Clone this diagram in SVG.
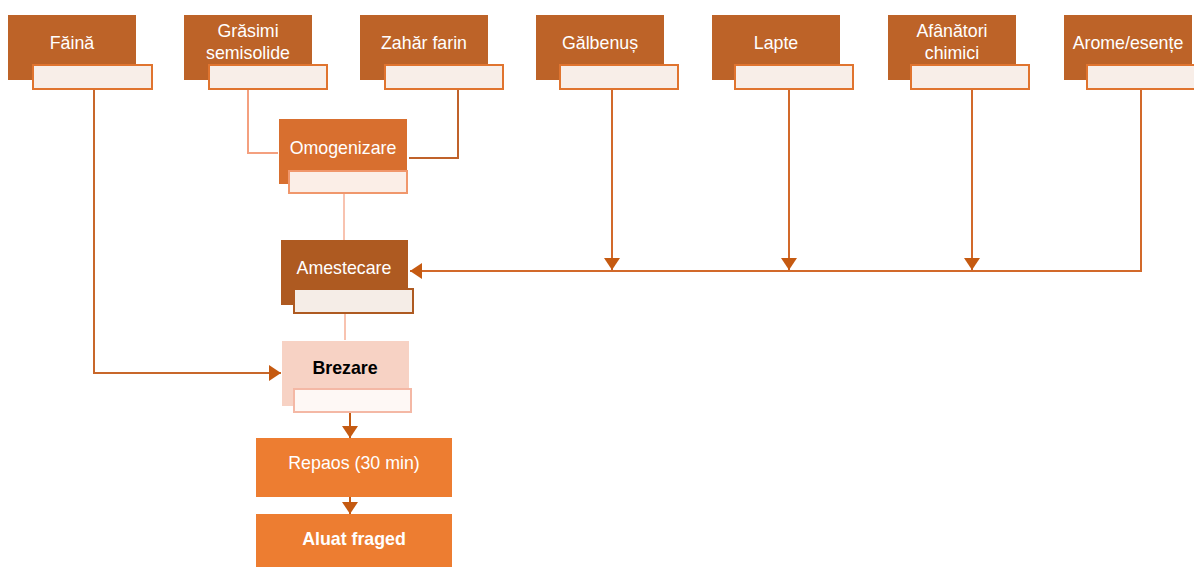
<svg xmlns="http://www.w3.org/2000/svg" width="1194" height="567" viewBox="0 0 1194 567">
<style>
text{font-family:"Liberation Sans",Arial,sans-serif;font-size:17.8px;fill:#fff;text-anchor:middle}
.top{fill:#bd6328}
.tl{fill:#f8eee8;stroke:#e0742f;stroke-width:2}
.c{fill:none;stroke-width:2}
</style>
<defs>
<marker id="ah" viewBox="0 0 12 16" refX="12" refY="8" markerWidth="14" markerHeight="16" markerUnits="userSpaceOnUse" orient="auto">
<path d="M0,0 L12,8 L0,16 Z" fill="#c55a11"/>
</marker>
</defs>
<rect width="1194" height="567" fill="#fff"/>
<g id="connectors">
<path class="c" stroke="#c8672a" d="M76,87 H94 V373 H281" marker-end="url(#ah)"/>
<path class="c" stroke="#f4a07f" d="M248,89 V153 H278"/>
<path class="c" stroke="#c0622a" d="M458,89 V158 H409"/>
<path class="c" stroke="#f8c3b0" d="M344,193 V240"/>
<path class="c" stroke="#f8c3b0" d="M345,313 V340"/>
<path class="c" stroke="#d2692a" d="M1141,89 V271 H410" marker-end="url(#ah)"/>
<path class="c" stroke="#d2692a" d="M612,89 V270" marker-end="url(#ah)"/>
<path class="c" stroke="#d2692a" d="M789,89 V270" marker-end="url(#ah)"/>
<path class="c" stroke="#d2692a" d="M972,89 V270" marker-end="url(#ah)"/>
<path class="c" stroke="#c55a11" d="M350,412 V438" marker-end="url(#ah)"/>
<path class="c" stroke="#c55a11" d="M350,497 V514" marker-end="url(#ah)"/>
</g>
<g id="faina"><rect class="top" x="8" y="15" width="128" height="65"/><rect class="tl" x="33" y="65" width="119" height="24"/><text x="72" y="49">Făină</text></g>
<g id="grasimi"><rect class="top" x="184" y="15" width="128" height="65"/><rect class="tl" x="209" y="65" width="118" height="24"/><text x="248" y="37">Grăsimi</text><text x="248" y="59">semisolide</text></g>
<g id="zahar"><rect class="top" x="360" y="15" width="128" height="65"/><rect class="tl" x="385" y="65" width="118" height="24"/><text x="424" y="49">Zahăr farin</text></g>
<g id="galbenus"><rect class="top" x="536" y="15" width="128" height="65"/><rect class="tl" x="560" y="65" width="118" height="24"/><text x="600" y="49">Gălbenuș</text></g>
<g id="lapte"><rect class="top" x="712" y="15" width="128" height="65"/><rect class="tl" x="735" y="65" width="118" height="24"/><text x="776" y="49">Lapte</text></g>
<g id="afanatori"><rect class="top" x="888" y="15" width="128" height="65"/><rect class="tl" x="911" y="65" width="118" height="24"/><text x="952" y="37">Afânători</text><text x="952" y="59">chimici</text></g>
<g id="arome"><rect class="top" x="1064" y="15" width="128" height="65"/><rect class="tl" x="1087" y="65" width="118" height="24"/><text x="1128" y="49">Arome/esențe</text></g>
<g id="omogenizare"><rect x="279" y="119" width="128" height="65" fill="#d86f2f"/><rect x="289" y="171" width="118" height="22" fill="#fbeee7" stroke="#f0976c" stroke-width="2"/><text x="343" y="154">Omogenizare</text></g>
<g id="amestecare"><rect x="281" y="240" width="127" height="65" fill="#ae5a21"/><rect x="294" y="289" width="119" height="24" fill="#f5ede7" stroke="#ae5a21" stroke-width="2"/><text x="344" y="274">Amestecare</text></g>
<g id="brezare"><rect x="282" y="341" width="127" height="65" fill="#f7d2c4"/><rect x="294" y="389" width="117" height="23" fill="#fef8f5" stroke="#f4b8a5" stroke-width="2"/><text x="345" y="374" style="fill:#000;font-weight:bold">Brezare</text></g>
<g id="repaos"><rect x="256" y="438" width="196" height="59" fill="#ed7d31"/><text x="354" y="469">Repaos (30 min)</text></g>
<g id="aluat"><rect x="256" y="514" width="196" height="60" fill="#ed7d31"/><text x="354" y="545" style="font-weight:bold">Aluat fraged</text></g>
</svg>
